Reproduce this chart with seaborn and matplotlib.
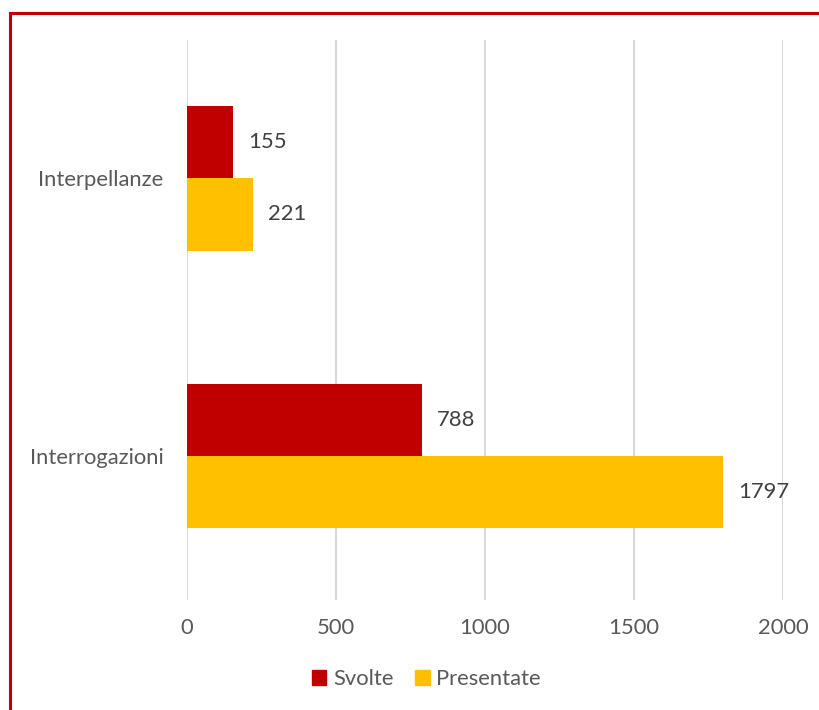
import pandas as pd
import matplotlib.pyplot as plt
import matplotlib.patches as mpatches
import seaborn as sns

# Dati
categorie = ['Interpellanze', 'Interrogazioni']
svolte = [155, 788]
presentate = [221, 1797]
serie = ['Svolte', 'Presentate']
colori = ['#C00000', '#FFC000']

data = pd.DataFrame({
    'Categoria': categorie * 2,
    'Tipo': ['Svolte'] * 2 + ['Presentate'] * 2,
    'Valore': svolte + presentate,
})

sns.set_style('white')
plt.rcParams['font.family'] = ['Lato', 'DejaVu Sans']
testo = '#595959'
fs = 15.8

fig = plt.figure(figsize=(8.2, 7.1), dpi=100)
ax = fig.add_axes([0.228, 0.155, 0.727, 0.789])

sns.barplot(data=data, x='Valore', y='Categoria', hue='Tipo', hue_order=serie,
            order=categorie, palette=colori, width=0.52, saturation=1,
            orient='h', ax=ax, legend=False, linewidth=0)

for cont in ax.containers:
    ax.bar_label(cont, padding=11, fontsize=fs, color='#404040')

ax.set_xlim(0, 2000)
ax.set_ylim(1.52, -0.5)
ax.set_xticks([0, 500, 1000, 1500, 2000])
ax.grid(axis='x', color='#D9D9D9', linewidth=1.5)
ax.grid(axis='y', visible=False)
ax.set_axisbelow(True)
sns.despine(ax=ax, left=True, bottom=True)
ax.tick_params(axis='x', length=0, pad=13, labelsize=fs, labelcolor=testo)
ax.tick_params(axis='y', length=0, pad=17, labelsize=fs, labelcolor=testo)
ax.set_xlabel('')
ax.set_ylabel('')

handles = [mpatches.Patch(color=c, label=s) for c, s in zip(colori, serie)]
fig.legend(handles=handles, loc='center', bbox_to_anchor=(0.52, 0.043), ncol=2,
           frameon=False, fontsize=fs, handlelength=0.65, handleheight=0.65,
           handletextpad=0.3, columnspacing=1.0, labelcolor=testo)

# cornice rossa
fig.patches.append(mpatches.Rectangle((10.5 / 820, -0.1), 1.2, 1.1 - 12.5 / 710,
                                      transform=fig.transFigure, fill=False,
                                      edgecolor='#C00000', linewidth=2.2))

fig.savefig('out.png', dpi=100)
